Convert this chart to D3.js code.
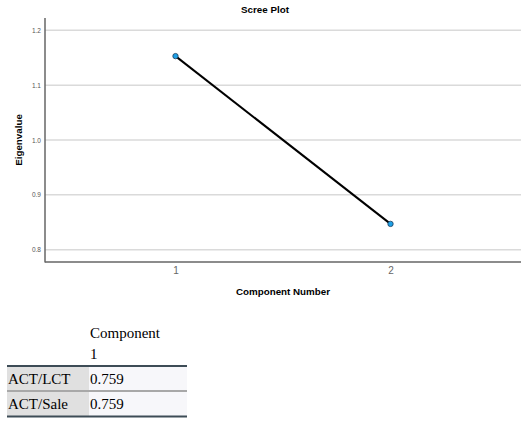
<!DOCTYPE html>
<html><head><meta charset="utf-8">
<script src="https://cdn.jsdelivr.net/npm/d3@7"></script>
<style>body{margin:0;background:#fff}</style>
</head><body>
<svg id="c" width="525" height="425"></svg>
<script>
const components = [1, 2];
const eigenvalues = [1.153, 0.847];
const yTicks = [0.8, 0.9, 1.0, 1.1, 1.2];
const tableVars = ["ACT/LCT", "ACT/Sale"];
const tableLoadings = [0.759, 0.759];
const tableHeader = ["Component", "1"];

const svg = d3.select("#c");
const L = 45, R = 521, T = 18, B = 262;
const x = d3.scalePoint().domain(components).range([L, R]).padding(0.607);
const y = d3.scaleLinear().domain([0.7775, 1.2225]).range([B, T]);

// gridlines
svg.append("g").selectAll("line").data(yTicks).join("line")
  .attr("x1", L).attr("x2", R)
  .attr("y1", d => y(d)).attr("y2", d => y(d))
  .attr("stroke", "#dadada").attr("stroke-width", 1.5);

// y axis
const ya = svg.append("g").attr("transform", `translate(${L},0)`)
  .call(d3.axisLeft(y).tickValues(yTicks).tickSize(0).tickPadding(4).tickFormat(d3.format(".1f")));
ya.select(".domain").remove();
ya.selectAll("text").attr("font-family", "Liberation Sans, Arial, sans-serif").attr("font-size", 6.5).attr("fill", "#555");

// x axis
const xa = svg.append("g").attr("transform", `translate(0,${B})`)
  .call(d3.axisBottom(x).tickSize(0).tickPadding(5));
xa.select(".domain").remove();
xa.selectAll("text").attr("font-family", "Liberation Sans, Arial, sans-serif").attr("font-size", 10).attr("fill", "#666");

// axis lines
svg.append("line").attr("x1", L).attr("x2", L).attr("y1", T).attr("y2", B + 0.5)
  .attr("stroke", "#666").attr("stroke-width", 1.5);
svg.append("line").attr("x1", L).attr("x2", R).attr("y1", B).attr("y2", B)
  .attr("stroke", "#666").attr("stroke-width", 1.5);

// line
const pts = components.map((c, i) => [c, eigenvalues[i]]);
svg.append("path").datum(pts)
  .attr("d", d3.line().x(d => x(d[0])).y(d => y(d[1])))
  .attr("fill", "none").attr("stroke", "#000").attr("stroke-width", 2);
svg.append("g").selectAll("circle").data(pts).join("circle")
  .attr("cx", d => x(d[0])).attr("cy", d => y(d[1])).attr("r", 2.7)
  .attr("fill", "#1ea0e6").attr("stroke", "#1b3d5e").attr("stroke-width", 0.8);

// titles
const sans = "Liberation Sans, Arial, sans-serif";
svg.append("text").attr("x", 265).attr("y", 13).attr("text-anchor", "middle")
  .attr("font-family", sans).attr("font-weight", "bold").attr("font-size", 9.8).text("Scree Plot");
svg.append("text").attr("x", 283).attr("y", 295).attr("text-anchor", "middle")
  .attr("font-family", sans).attr("font-weight", "bold").attr("font-size", 9.8).text("Component Number");
svg.append("text").attr("transform", "translate(22,140) rotate(-90)").attr("text-anchor", "middle")
  .attr("font-family", sans).attr("font-weight", "bold").attr("font-size", 9.8).text("Eigenvalue");

// table
const serif = "Liberation Serif, Times New Roman, serif";
const tx0 = 7, tx1 = 89, tx2 = 187, rowTop = 366, rowH = 25;
const tg = svg.append("g");
tg.append("text").attr("x", 90).attr("y", 338).attr("font-family", serif).attr("font-size", 15).text(tableHeader[0]);
tg.append("text").attr("x", 90).attr("y", 359).attr("font-family", serif).attr("font-size", 15).text(tableHeader[1]);
tableVars.forEach((v, i) => {
  const yy = rowTop + i * rowH;
  tg.append("rect").attr("x", tx0).attr("y", yy).attr("width", tx1 - tx0).attr("height", rowH).attr("fill", "#e0e0e0");
  tg.append("rect").attr("x", tx1).attr("y", yy).attr("width", tx2 - tx1).attr("height", rowH).attr("fill", "#f7f7fa");
  tg.append("text").attr("x", tx0 + 1).attr("y", yy + 18).attr("font-family", serif).attr("font-size", 15).text(v);
  tg.append("text").attr("x", 90).attr("y", yy + 18).attr("font-family", serif).attr("font-size", 15).text(d3.format(".3f")(tableLoadings[i]));
});
tg.append("line").attr("x1", tx0).attr("x2", tx2).attr("y1", rowTop).attr("y2", rowTop).attr("stroke", "#3d4c56").attr("stroke-width", 2);
tg.append("line").attr("x1", tx0).attr("x2", tx2).attr("y1", rowTop + rowH).attr("y2", rowTop + rowH).attr("stroke", "#a8a8a8").attr("stroke-width", 2);
tg.append("line").attr("x1", tx0).attr("x2", tx2).attr("y1", rowTop + 2 * rowH + 0.5).attr("y2", rowTop + 2 * rowH + 0.5).attr("stroke", "#3d4c56").attr("stroke-width", 2);
</script>
</body></html>
